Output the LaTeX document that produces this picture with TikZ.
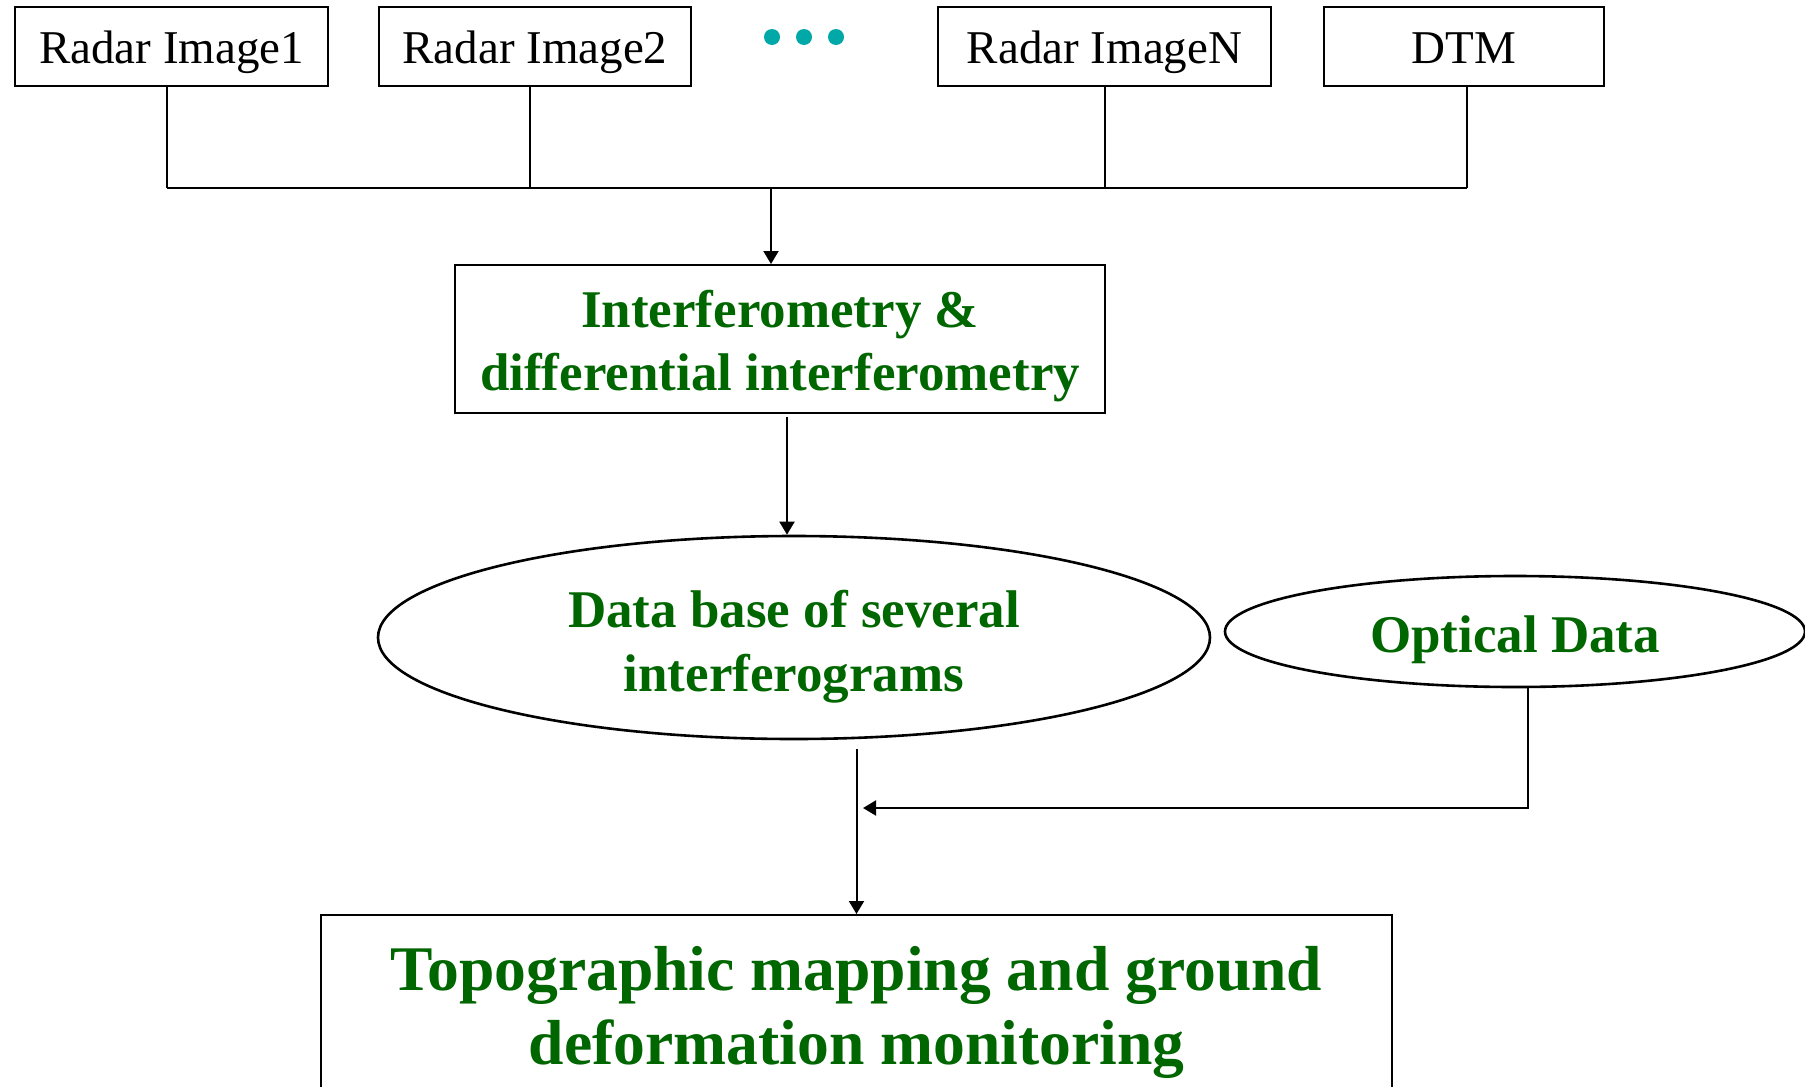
\documentclass[tikz,border=0pt]{standalone}
\usepackage{fontspec}
\setmainfont{Liberation Serif}
\usetikzlibrary{arrows.meta,shapes.geometric}
\definecolor{flowgreen}{RGB}{0,102,0}
\definecolor{dotteal}{RGB}{0,168,168}
\tikzset{
  srcbox/.style={draw, line width=1pt, rectangle, inner sep=0pt,
    minimum height=39.5pt, text height=21.8pt, text depth=5.1pt,
    font=\fontsize{23.5}{28}\selectfont},
  procbox/.style={draw, line width=1pt, rectangle, inner sep=0pt},
  dataell/.style={draw, line width=1.3pt, ellipse, inner sep=0pt},
  greentext/.style={align=center, inner sep=0pt, text=flowgreen,
    font=\fontsize{26.5}{31.5}\selectfont\bfseries},
  link/.style={line width=1pt},
  flow/.style={line width=1pt, -{Triangle[length=6.5pt,width=7.5pt]}},
  dotmark/.style={circle, fill=dotteal, inner sep=0pt, minimum size=8pt}
}
\begin{document}
\begin{tikzpicture}[x=0.5pt, y=-0.5pt]
  \clip (0,0) rectangle (1805,1087);
  \fill[white] (0,0) rectangle (1805,1087);

  % input data
  \node[srcbox, minimum width=156.5pt] (r1)  at (171.5,46.5) {Radar Image1};
  \node[srcbox, minimum width=156pt]   (r2)  at (535,46.5)   {Radar Image2};
  \node[srcbox, minimum width=166.5pt] (rN)  at (1104.5,46.5) {Radar ImageN};
  \node[srcbox, minimum width=140pt]   (dtm) at (1464,46.5)  {DTM};
  \node[dotmark] (d1) at (772,37) {};
  \node[dotmark] (d2) at (804,37) {};
  \node[dotmark] (d3) at (836,37) {};

  % processing chain
  \node[procbox, minimum width=325pt, minimum height=74pt,
        label={[greentext, yshift=-3.7pt]center:Interferometry \&\\differential interferometry}]
        (ifm) at (780,339) {};
  \node[dataell, minimum width=416pt, minimum height=101.5pt,
        label={[greentext, font=\fontsize{26.5}{32}\selectfont\bfseries, yshift=-4.5pt]center:Data base of several\\interferograms}]
        (db) at (794,637.5) {};
  \node[dataell, minimum width=290pt, minimum height=55.5pt,
        label={[greentext, yshift=-4pt]center:Optical Data}]
        (opt) at (1515,631.5) {};
  \node[procbox, minimum width=535.5pt, minimum height=91pt,
        label={[greentext, font=\fontsize{31.8}{37}\selectfont\bfseries, yshift=-3.2pt]center:Topographic mapping and ground\\deformation monitoring}]
        (out) at (856.5,1006) {};

  % collecting bus from the inputs
  \coordinate (bus) at (771,188);
  \draw[link] ([xshift=-2.25pt]r1.south) -- ([xshift=-2.25pt]r1.south |- bus);
  \draw[link] ([xshift=-2.5pt]r2.south) -- ([xshift=-2.5pt]r2.south |- bus);
  \draw[link] (rN.south) -- (rN.south |- bus);
  \draw[link] ([xshift=1.5pt]dtm.south) -- ([xshift=1.5pt]dtm.south |- bus);
  \draw[link] ([xshift=-2.25pt]r1.south |- bus) -- ([xshift=1.5pt]dtm.south |- bus);
  \draw[flow] (bus) -- (bus |- ifm.north);

  % interferometry to data base
  \draw[flow] ([xshift=3.5pt,yshift=-1.5pt]ifm.south) -- ([xshift=3.5pt]ifm.south |- db.north);

  % data base and optical data to the final product
  \coordinate (merge) at (856,808);
  \draw[flow] ([yshift=-4.5pt]db.south -| out.north) -- (out.north);
  \draw[flow] ([xshift=6.5pt]opt.south) |- ([xshift=3.5pt]merge);
\end{tikzpicture}
\end{document}
